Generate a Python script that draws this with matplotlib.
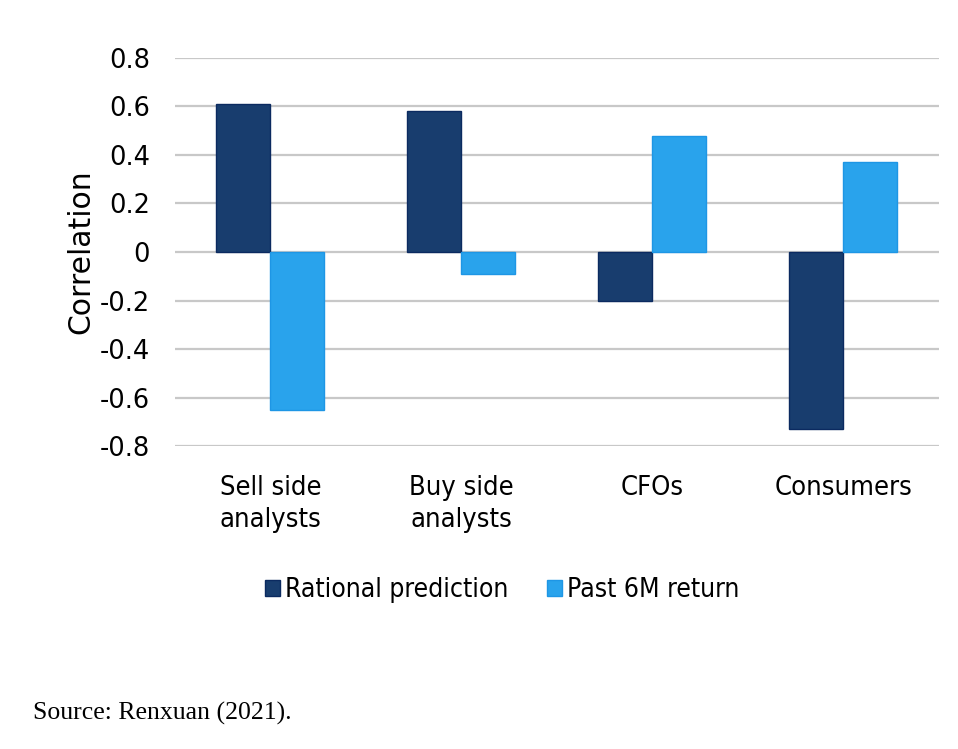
import matplotlib.pyplot as plt
import numpy as np

# data
groups = ["Sell side\nanalysts", "Buy side\nanalysts", "CFOs", "Consumers"]
rational = [0.61, 0.58, -0.20, -0.73]
past_6m = [-0.65, -0.09, 0.48, 0.37]
series_names = ["Rational prediction", "Past 6M return"]
y_ticks = [0.8, 0.6, 0.4, 0.2, 0, -0.2, -0.4, -0.6, -0.8]

dark = "#183D6E"
light = "#29A3EC"

fig = plt.figure(figsize=(9.58, 7.49), dpi=100)
ax = fig.add_axes([0.1827, 0.4045, 0.797, 0.5181])

x = np.arange(len(groups))
w = 0.283
ax.bar(x - w / 2, rational, w, color=dark, edgecolor="#0B2A60", linewidth=1.0,
       label=series_names[0], zorder=3)
ax.bar(x + w / 2, past_6m, w, color=light, edgecolor="#1E96E5", linewidth=1.0,
       label=series_names[1], zorder=3)

ax.set_xlim(-0.5, len(groups) - 0.5)
ax.set_ylim(-0.8, 0.8)
ax.set_yticks(y_ticks)
ax.set_yticklabels(["0" if v == 0 else f"{v:.1f}" for v in y_ticks],
                   fontfamily="DejaVu Sans", fontsize=18.5)
ax.set_xticks(x)
ax.set_xticklabels(groups, fontfamily="DejaVu Sans", fontstretch="condensed",
                   fontsize=19.5, linespacing=1.3)
ax.tick_params(axis="both", length=0)
ax.tick_params(axis="x", pad=21)
ax.tick_params(axis="y", pad=18)
ax.grid(axis="y", color="#C8C8C8", linewidth=1.6, zorder=0)
for s in ax.spines.values():
    s.set_visible(False)

fig.text(81 / 958, 1 - 252 / 749, "Correlation", rotation=90, ha="center",
         va="center", fontfamily="DejaVu Sans", fontsize=21.5)

fig.legend(loc="center", bbox_to_anchor=(502 / 958, 1 - 590 / 749), ncol=2,
           frameon=False, handlelength=0.57, handleheight=0.57, handletextpad=0.2,
           columnspacing=1.45,
           prop={"family": "DejaVu Sans", "stretch": "condensed", "size": 19})

fig.text(33 / 958, 1 - 713 / 749, "Source: Renxuan (2021).", ha="left",
         va="center", fontfamily="Liberation Serif", fontsize=18.5)

fig.savefig("out.png", dpi=100)
